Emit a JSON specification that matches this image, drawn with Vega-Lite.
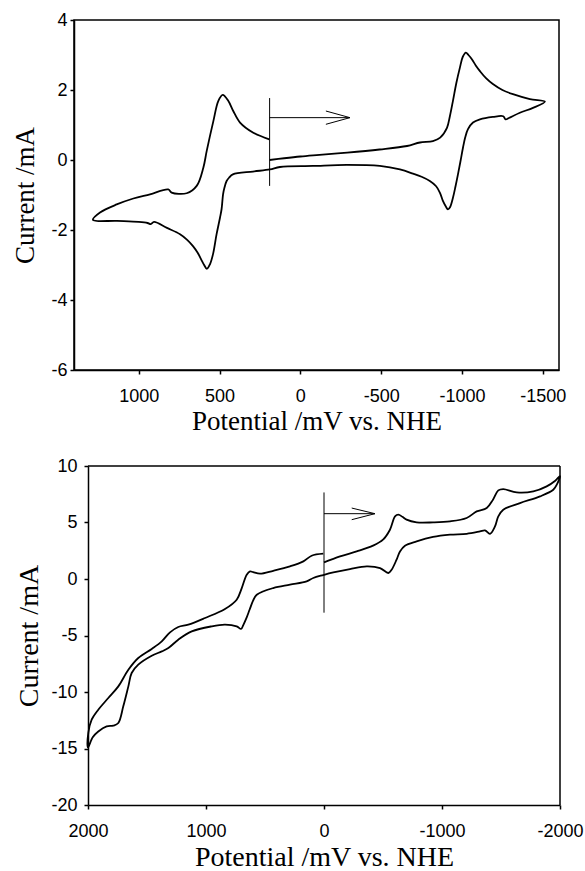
{
  "$schema": "https://vega.github.io/schema/vega-lite/v6.json",
  "padding": {"left": 11, "top": 10, "right": 2, "bottom": 0},
  "background": "white",
  "spacing": 22,
  "config": {
    "view": {"stroke": "black", "strokeWidth": 1.5},
    "axis": {"grid": false, "domainColor": "black", "domainWidth": 1.5, "tickColor": "black", "tickWidth": 1.5, "tickSize": 4,
      "labelFont": "Liberation Sans", "labelFontSize": 18, "labelColor": "black",
      "titleFont": "Liberation Serif", "titleFontSize": 27, "titleFontWeight": "normal", "titleColor": "black"},
    "axisX": {"labelPadding": 13, "titlePadding": 3, "labelFlush": false},
    "axisY": {"labelPadding": 3, "titlePadding": 11}
  },
  "datasets": {
    "cv1": [
      {"E":190,"I":0},{"E":100,"I":0.05},{"E":0,"I":0.1},{"E":-100,"I":0.14},{"E":-290,"I":0.21},{"E":-490,"I":0.3},{"E":-660,"I":0.4},{"E":-740,"I":0.5},{"E":-820,"I":0.54},{"E":-865,"I":0.64},{"E":-907,"I":0.92},{"E":-925,"I":1.25},{"E":-944,"I":1.69},{"E":-965,"I":2.2},{"E":-987,"I":2.64},{"E":-1005,"I":2.95},{"E":-1024,"I":3.07},{"E":-1040,"I":3.0},{"E":-1061,"I":2.88},{"E":-1085,"I":2.7},{"E":-1111,"I":2.54},{"E":-1150,"I":2.33},{"E":-1191,"I":2.17},{"E":-1250,"I":2.0},{"E":-1315,"I":1.88},{"E":-1420,"I":1.74},{"E":-1513,"I":1.67},
      {"E":-1439,"I":1.49},{"E":-1358,"I":1.35},{"E":-1290,"I":1.2},{"E":-1270,"I":1.16},{"E":-1255,"I":1.25},{"E":-1191,"I":1.23},{"E":-1111,"I":1.16},{"E":-1068,"I":1.07},{"E":-1037,"I":0.88},{"E":-1020,"I":0.65},{"E":-1006,"I":0.35},{"E":-990,"I":-0.05},{"E":-975,"I":-0.41},{"E":-960,"I":-0.75},{"E":-944,"I":-1.08},{"E":-925,"I":-1.36},{"E":-913,"I":-1.41},{"E":-900,"I":-1.33},{"E":-882,"I":-1.17},{"E":-863,"I":-0.93},{"E":-840,"I":-0.75},{"E":-801,"I":-0.6},{"E":-750,"I":-0.48},{"E":-697,"I":-0.39},{"E":-616,"I":-0.27},{"E":-492,"I":-0.17},{"E":-288,"I":-0.14},{"E":-78,"I":-0.17},{"E":126,"I":-0.2},{"E":188,"I":-0.27},{"E":293,"I":-0.33},{"E":417,"I":-0.41},{"E":440,"I":-0.5},{"E":456,"I":-0.6},{"E":470,"I":-0.8},{"E":478,"I":-0.98},{"E":487,"I":-1.4},{"E":497,"I":-1.65},{"E":518,"I":-2.12},{"E":540,"I":-2.69},{"E":559,"I":-2.98},{"E":578,"I":-3.11},{"E":595,"I":-3.0},{"E":608,"I":-2.89},{"E":635,"I":-2.65},{"E":664,"I":-2.46},{"E":700,"I":-2.28},{"E":744,"I":-2.12},{"E":825,"I":-1.94},{"E":905,"I":-1.77},{"E":925,"I":-1.83},{"E":945,"I":-1.8},{"E":1000,"I":-1.77},{"E":1134,"I":-1.74},{"E":1283,"I":-1.71},
      {"E":1239,"I":-1.5},{"E":1136,"I":-1.27},{"E":1033,"I":-1.1},{"E":930,"I":-0.98},{"E":817,"I":-0.84},{"E":796,"I":-0.93},{"E":703,"I":-0.95},{"E":641,"I":-0.74},{"E":600,"I":-0.22},{"E":579,"I":0.26},{"E":538,"I":1.11},{"E":507,"I":1.69},{"E":480,"I":1.86},{"E":446,"I":1.69},{"E":415,"I":1.4},{"E":373,"I":1.07},{"E":291,"I":0.78},{"E":192,"I":0.59}
    ],
    "ann1": [
      {"s":"v","E":190,"I":1.77},{"s":"v","E":190,"I":-0.74},
      {"s":"a","E":190,"I":1.21},{"s":"a","E":-307,"I":1.21},
      {"s":"h","E":-158,"I":1.4},{"s":"h","E":-307,"I":1.21},{"s":"h","E":-158,"I":1.02}
    ],
    "cv2": [
      {"E":0,"I":1.47},{"E":-136,"I":2.0},{"E":-277,"I":2.44},{"E":-415,"I":2.95},{"E":-500,"I":3.48},{"E":-559,"I":4.36},{"E":-602,"I":5.54},{"E":-630,"I":5.69},{"E":-665,"I":5.5},{"E":-700,"I":5.25},{"E":-785,"I":5.01},{"E":-924,"I":5.01},{"E":-1068,"I":5.1},{"E":-1209,"I":5.4},{"E":-1294,"I":5.98},{"E":-1379,"I":6.28},{"E":-1432,"I":7.02},{"E":-1477,"I":7.84},{"E":-1519,"I":7.96},{"E":-1633,"I":7.66},{"E":-1774,"I":7.75},{"E":-1887,"I":8.2},{"E":-1960,"I":8.7},{"E":-2000,"I":9.1},
      {"E":-1975,"I":8.4},{"E":-1943,"I":7.9},{"E":-1831,"I":7.31},{"E":-1661,"I":6.72},{"E":-1519,"I":6.13},{"E":-1477,"I":5.54},{"E":-1449,"I":4.65},{"E":-1407,"I":4.0},{"E":-1364,"I":4.3},{"E":-1322,"I":4.21},{"E":-1209,"I":4.0},{"E":-1068,"I":3.92},{"E":-924,"I":3.72},{"E":-785,"I":3.33},{"E":-686,"I":2.95},{"E":-644,"I":2.44},{"E":-615,"I":1.71},{"E":-573,"I":0.82},{"E":-545,"I":0.53},{"E":-475,"I":0.97},{"E":-362,"I":1.12},{"E":-220,"I":0.88},{"E":-79,"I":0.58},{"E":6,"I":0.35},{"E":91,"I":0.09},{"E":147,"I":-0.21},{"E":288,"I":-0.5},{"E":430,"I":-0.8},{"E":570,"I":-1.39},{"E":600,"I":-1.9},{"E":630,"I":-2.7},{"E":655,"I":-3.4},{"E":685,"I":-4.1},{"E":703,"I":-4.42},{"E":740,"I":-4.19},{"E":839,"I":-4.04},{"E":952,"I":-4.19},{"E":1121,"I":-4.64},{"E":1235,"I":-5.37},{"E":1319,"I":-6.11},{"E":1375,"I":-6.41},{"E":1460,"I":-6.79},{"E":1574,"I":-7.58},{"E":1630,"I":-8.32},{"E":1658,"I":-9.5},{"E":1701,"I":-11.27},{"E":1743,"I":-12.74},{"E":1786,"I":-12.98},{"E":1842,"I":-13.04},{"E":1913,"I":-13.49},{"E":1960,"I":-14.0},{"E":2000,"I":-14.9},
      {"E":1997,"I":-13.6},{"E":1969,"I":-12.45},{"E":1913,"I":-11.57},{"E":1828,"I":-10.53},{"E":1743,"I":-9.5},{"E":1658,"I":-8.03},{"E":1574,"I":-6.99},{"E":1460,"I":-6.19},{"E":1375,"I":-5.52},{"E":1305,"I":-4.72},{"E":1235,"I":-4.25},{"E":1150,"I":-4.04},{"E":1008,"I":-3.45},{"E":839,"I":-2.65},{"E":740,"I":-1.83},{"E":697,"I":-0.8},{"E":655,"I":0.38},{"E":627,"I":0.67},{"E":600,"I":0.6},{"E":542,"I":0.47},{"E":430,"I":0.73},{"E":288,"I":1.12},{"E":175,"I":1.56},{"E":105,"I":2.06},{"E":6,"I":2.24}
    ],
    "ann2": [
      {"s":"v","E":0,"I":7.66},{"s":"v","E":0,"I":-2.98},
      {"s":"a","E":0,"I":5.78},{"s":"a","E":-432,"I":5.78},
      {"s":"h","E":-235,"I":6.28},{"s":"h","E":-432,"I":5.78},{"s":"h","E":-235,"I":5.25}
    ]
  },
  "vconcat": [
    {
      "width": 485, "height": 350,
      "encoding": {
        "x": {"field": "E", "type": "quantitative", "title": "Potential /mV vs. NHE",
          "scale": {"domain": [-1600, 1400], "reverse": true, "nice": false, "zero": false},
          "axis": {"values": [1000, 500, 0, -500, -1000, -1500], "labelExpr": "'' + datum.value"}},
        "y": {"field": "I", "type": "quantitative", "title": "Current /mA",
          "scale": {"domain": [-6, 4], "nice": false, "zero": false},
          "axis": {"values": [-6, -4, -2, 0, 2, 4], "labelExpr": "'' + datum.value"}}
      },
      "layer": [
        {"data": {"name": "cv1"}, "mark": {"type": "line", "color": "black", "strokeWidth": 1.8, "interpolate": "catmull-rom"},
          "encoding": {"order": {"value": null}}},
        {"data": {"name": "ann1"}, "mark": {"type": "line", "color": "black", "strokeWidth": 1},
          "encoding": {"detail": {"field": "s"}, "order": {"value": null}}}
      ]
    },
    {
      "width": 486, "height": 339,
      "view": {"stroke": null},
      "layer": [
        {"data": {"name": "cv2"}, "mark": {"type": "line", "color": "black", "strokeWidth": 1.8, "interpolate": "catmull-rom"},
          "encoding": {
            "x": {"field": "E", "type": "quantitative", "title": "Potential /mV vs. NHE",
              "scale": {"domain": [-2000, 2000], "reverse": true, "nice": false, "zero": false, "range": [14, 486]},
              "axis": {"values": [2000, 1000, 0, -1000, -2000], "labelExpr": "'' + datum.value", "titleFontSize": 28}},
            "y": {"field": "I", "type": "quantitative", "title": "Current /mA",
              "scale": {"domain": [-20, 10], "nice": false, "zero": false},
              "axis": {"values": [-20, -15, -10, -5, 0, 5, 10], "labelExpr": "'' + datum.value", "titleFontSize": 28, "labelPadding": 7, "titlePadding": 7, "offset": -14}},
            "order": {"value": null}}},
        {"data": {"name": "ann2"}, "mark": {"type": "line", "color": "black", "strokeWidth": 1},
          "encoding": {"x": {"field": "E", "type": "quantitative"}, "y": {"field": "I", "type": "quantitative"}, "detail": {"field": "s"}, "order": {"value": null}}},
        {"data": {"values": [{}]}, "mark": {"type": "rule", "color": "black", "strokeWidth": 1.5},
          "encoding": {"x": {"datum": 2000, "type": "quantitative"}, "x2": {"datum": -2000}, "y": {"datum": 10, "type": "quantitative"}}},
        {"data": {"values": [{}]}, "mark": {"type": "rule", "color": "black", "strokeWidth": 1.5},
          "encoding": {"x": {"datum": -2000, "type": "quantitative"}, "y": {"datum": -20, "type": "quantitative"}, "y2": {"datum": 10}}}
      ]
    }
  ]
}
